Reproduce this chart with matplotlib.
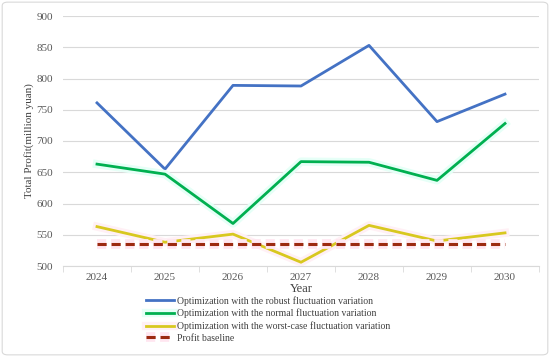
import matplotlib.pyplot as plt
import matplotlib.patheffects as pe
from matplotlib.patches import FancyBboxPatch

plt.rcParams['font.family'] = ['Liberation Serif', 'DejaVu Serif']

# Data
years = ['2024', '2025', '2026', '2027', '2028', '2029', '2030']
robust = [761, 655, 789, 788, 853, 731, 775]
normal = [663, 647, 568, 667, 666, 637, 728]
worst = [563, 538, 551, 506, 565, 540, 553]
baseline = [536, 536, 536, 536, 536, 536, 536]

labels = [
    'Optimization with the robust fluctuation variation',
    'Optimization with the normal fluctuation variation',
    'Optimization with the worst-case fluctuation variation',
    'Profit baseline',
]

fig = plt.figure(figsize=(5.5, 3.57), dpi=100)
ax = fig.add_axes([63 / 550, 1 - 266 / 357, (539 - 63) / 550, (266 - 16) / 357])

# light frame round the whole figure
fig.patches.append(FancyBboxPatch((0.004, 0.006), 0.992, 0.988, boxstyle='round,pad=0,rounding_size=0.01',
                                  transform=fig.transFigure, fill=False, edgecolor='#d9d9d9', linewidth=0.8))

x = list(range(len(years)))
l1, = ax.plot(x, robust, color='#4472c4', linewidth=2)
l2, = ax.plot(x, normal, color='#00b050', linewidth=2,
              path_effects=[pe.Stroke(linewidth=6, foreground='#e6fff7'), pe.Normal()])
l3, = ax.plot(x, worst, color='#d8c81f', linewidth=2,
              path_effects=[pe.Stroke(linewidth=6, foreground='#fff0f5'), pe.Normal()])
l4, = ax.plot(x, baseline, color='#9c2a10', linewidth=2.2, linestyle=(0, (3, 1.6)),
              path_effects=[pe.Stroke(linewidth=7, foreground='#ffe6f0'), pe.Normal()])

ax.set_xlim(-0.5, len(years) - 0.5)
ax.set_ylim(500, 900)
ax.set_yticks(range(500, 901, 50))
ax.set_xticks(x)
ax.set_xticklabels(years)
ax.set_xticks([i + 0.5 for i in range(-1, len(years))], minor=True)

ax.grid(axis='y', color='#d9d9d9', linewidth=0.8)
ax.set_axisbelow(True)
for s in ['top', 'right', 'left']:
    ax.spines[s].set_visible(False)
ax.spines['bottom'].set_color('#d9d9d9')
ax.tick_params(axis='y', length=0, labelsize=8, colors='#595959', pad=7)
ax.tick_params(axis='x', which='major', length=0, labelsize=8, colors='#595959', pad=5)
ax.tick_params(axis='x', which='minor', length=4, color='#d9d9d9')

ax.set_xlabel('Year', fontsize=9, color='#404040', labelpad=1)
ax.set_ylabel('Total Profit(million yuan)', fontsize=8, color='#404040', labelpad=2)

fig.legend([l1, l2, l3, l4], labels, loc='upper left', bbox_to_anchor=(146 / 550, 1 - 296 / 357),
           frameon=False, fontsize=7, handlelength=2.9, handletextpad=0.3, labelspacing=0.3,
           borderpad=0, borderaxespad=0, labelcolor='#404040')

fig.savefig('out.png', dpi=100)
